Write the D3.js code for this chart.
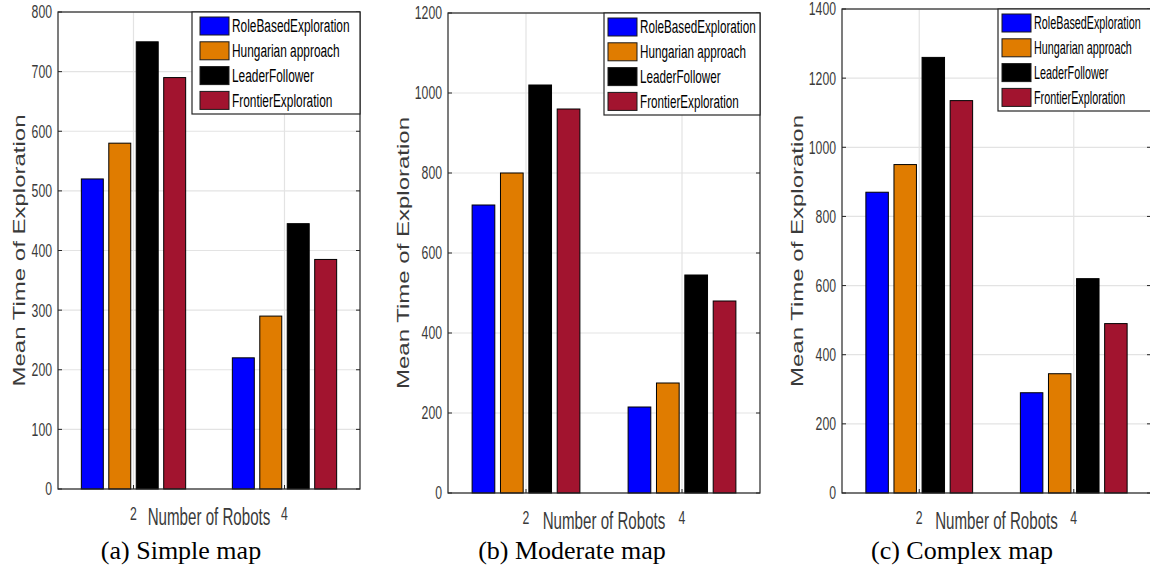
<!DOCTYPE html>
<html>
<head>
<meta charset="utf-8">
<script src="https://cdnjs.cloudflare.com/ajax/libs/d3/7.8.5/d3.min.js"></script>
<style>
  body { margin: 0; background: #fff; }
  text { font-family: "Liberation Sans", Arial, sans-serif; }
  .caption { font-family: "Liberation Serif", "Times New Roman", serif; }
</style>
</head>
<body>
<script>
// Mean time of exploration, one grouped bar chart per map

let robots = [2, 4];
let seriesNames = ["RoleBasedExploration", "Hungarian approach", "LeaderFollower", "FrontierExploration"];

// one row per robot count, one column per series
let simpleMap = [[520, 580, 750, 690], [220, 290, 445, 385]];
let moderateMap = [[720, 800, 1020, 960], [215, 275, 545, 480]];
let complexMap = [[870, 950, 1260, 1135], [290, 345, 620, 490]];

let simpleTicks = [0, 100, 200, 300, 400, 500, 600, 700, 800];
let moderateTicks = [0, 200, 400, 600, 800, 1000, 1200];
let complexTicks = [0, 200, 400, 600, 800, 1000, 1200, 1400];

let captions = ["(a) Simple map", "(b) Moderate map", "(c) Complex map"];

let colors = ["#0000ff", "#e07c00", "#000000", "#a2142f"];
let axisColor = "#262626";
let gridColor = "#e3e3e3";
let labelColor = "#3a3a3a";

// the source figure was squeezed sideways, so text is too
let squish = 0.68;

// placement of the three charts in the picture
let panels = [
    {values: simpleMap, ticks: simpleTicks, caption: captions[0],
     left: 58, right: 360, top: 12, bottom: 489,
     legendLeft: 192, swatchPad: 8, legendSquish: 0.66, labelGap: 40, captionX: 181},
    {values: moderateMap, ticks: moderateTicks, caption: captions[1],
     left: 448, right: 760, top: 13, bottom: 493,
     legendLeft: 604, swatchPad: 4, legendSquish: 0.65, labelGap: 46, captionX: 572},
    {values: complexMap, ticks: complexTicks, caption: captions[2],
     left: 842, right: 1151, top: 9, bottom: 493,
     legendLeft: 998, swatchPad: 4, legendSquish: 0.6, labelGap: 46, captionX: 962}
];

let svg = d3.select("body")
    .append("svg")
    .attr("width", 1150)
    .attr("height", 572);

svg.append("rect")
    .attr("width", 1150)
    .attr("height", 572)
    .attr("fill", "#fff");

panels.forEach(function(p) {
    let g = svg.append("g");

    let xScale = d3.scaleLinear()
        .domain([1, 5])
        .range([p.left, p.right]);

    let yScale = d3.scaleLinear()
        .domain([0, d3.max(p.ticks)])
        .range([p.bottom, p.top]);

    // bars inside a group, in x units (MATLAB style group width)
    let groupWidth = 2 * Math.min(0.8, seriesNames.length / (seriesNames.length + 1.5));
    let inner = d3.scaleBand()
        .domain(seriesNames)
        .range([-groupWidth / 2, groupWidth / 2])
        .paddingInner(0.2)
        .paddingOuter(0.1);

    // grid
    g.selectAll(".hgrid")
        .data(p.ticks)
        .enter()
        .append("line")
        .attr("x1", p.left)
        .attr("x2", p.right)
        .attr("y1", d => yScale(d))
        .attr("y2", d => yScale(d))
        .attr("stroke", gridColor)
        .attr("stroke-width", 1.2);

    g.selectAll(".vgrid")
        .data(robots)
        .enter()
        .append("line")
        .attr("x1", d => xScale(d))
        .attr("x2", d => xScale(d))
        .attr("y1", p.top)
        .attr("y2", p.bottom)
        .attr("stroke", gridColor)
        .attr("stroke-width", 1.2);

    // bars
    let cells = [];
    robots.forEach(function(r, i) {
        seriesNames.forEach(function(s, j) {
            cells.push({robot: r, series: s, color: colors[j], value: p.values[i][j]});
        });
    });

    g.selectAll(".bar")
        .data(cells)
        .enter()
        .append("rect")
        .attr("x", d => xScale(d.robot + inner(d.series)))
        .attr("width", d => xScale(d.robot + inner(d.series) + inner.bandwidth()) - xScale(d.robot + inner(d.series)))
        .attr("y", d => yScale(d.value))
        .attr("height", d => yScale(0) - yScale(d.value))
        .attr("fill", d => d.color)
        .attr("stroke", "#000")
        .attr("stroke-width", 1);

    // box and inward ticks
    g.append("rect")
        .attr("x", p.left)
        .attr("y", p.top)
        .attr("width", p.right - p.left)
        .attr("height", p.bottom - p.top)
        .attr("fill", "none")
        .attr("stroke", axisColor)
        .attr("stroke-width", 1.2);

    let tickLen = 4;
    g.selectAll(".ytickL")
        .data(p.ticks)
        .enter()
        .append("line")
        .attr("x1", p.left)
        .attr("x2", p.left + tickLen)
        .attr("y1", d => yScale(d))
        .attr("y2", d => yScale(d))
        .attr("stroke", axisColor);
    g.selectAll(".ytickR")
        .data(p.ticks)
        .enter()
        .append("line")
        .attr("x1", p.right)
        .attr("x2", p.right - tickLen)
        .attr("y1", d => yScale(d))
        .attr("y2", d => yScale(d))
        .attr("stroke", axisColor);
    g.selectAll(".xtick")
        .data(robots)
        .enter()
        .append("line")
        .attr("x1", d => xScale(d))
        .attr("x2", d => xScale(d))
        .attr("y1", p.bottom)
        .attr("y2", p.bottom - tickLen)
        .attr("stroke", axisColor);

    // y tick labels
    g.selectAll(".ylab")
        .data(p.ticks)
        .enter()
        .append("text")
        .attr("transform", d => `translate(${p.left - 6}, ${yScale(d)}) scale(${squish}, 1)`)
        .attr("dy", "0.36em")
        .attr("text-anchor", "end")
        .attr("font-size", 18)
        .attr("fill", labelColor)
        .text(d => d);

    // x tick labels
    g.selectAll(".xlab")
        .data(robots)
        .enter()
        .append("text")
        .attr("transform", d => `translate(${xScale(d)}, ${p.bottom + 31}) scale(${squish}, 1)`)
        .attr("text-anchor", "middle")
        .attr("font-size", 18)
        .attr("fill", labelColor)
        .text(d => d);

    // axis labels
    g.append("text")
        .attr("transform", `translate(${xScale(3)}, ${p.bottom + 36}) scale(0.63, 1)`)
        .attr("text-anchor", "middle")
        .attr("font-size", 24)
        .attr("fill", labelColor)
        .text("Number of Robots");

    g.append("text")
        .attr("transform", `translate(${p.left - p.labelGap + 7}, ${(p.top + p.bottom) / 2}) scale(0.72, 1) rotate(-90)`)
        .attr("text-anchor", "middle")
        .attr("font-size", 24)
        .attr("fill", labelColor)
        .text("Mean Time of Exploration");

    // legend
    let legendTop = p.top;
    let legend = g.append("g");
    legend.append("rect")
        .attr("x", p.legendLeft)
        .attr("y", legendTop)
        .attr("width", p.right - p.legendLeft)
        .attr("height", 102)
        .attr("fill", "#fff")
        .attr("stroke", axisColor)
        .attr("stroke-width", 1.2);

    let rows = legend.selectAll(".row")
        .data(seriesNames)
        .enter()
        .append("g")
        .attr("transform", (d, i) => `translate(${p.legendLeft + p.swatchPad}, ${legendTop + 14 + i * 24.8})`);

    rows.append("rect")
        .attr("x", 0)
        .attr("y", -9)
        .attr("width", 29)
        .attr("height", 18)
        .attr("fill", (d, i) => colors[i])
        .attr("stroke", "#1a1a1a")
        .attr("stroke-width", 1);

    rows.append("text")
        .attr("transform", `translate(32, 0) scale(${p.legendSquish}, 1)`)
        .attr("dy", "0.36em")
        .attr("font-size", 18)
        .attr("fill", "#000")
        .text(d => d);

    // caption under the chart
    svg.append("text")
        .attr("class", "caption")
        .attr("x", p.captionX)
        .attr("y", 559)
        .attr("text-anchor", "middle")
        .attr("font-size", 26)
        .attr("fill", "#000")
        .text(p.caption);
});
</script>
</body>
</html>
